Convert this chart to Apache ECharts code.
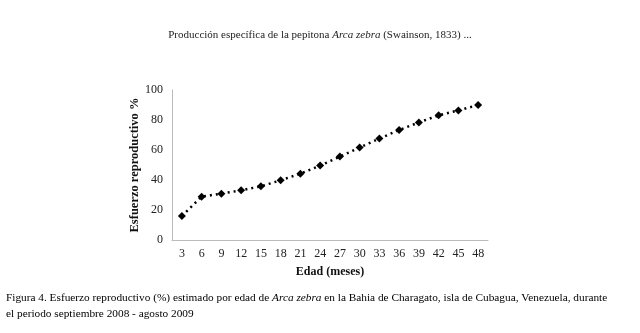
<!DOCTYPE html>
<html><head><meta charset="utf-8">
<script src="https://cdn.jsdelivr.net/npm/echarts@6/dist/echarts.min.js"></script>
<style>html,body{margin:0;padding:0;background:#fff}#c{width:640px;height:333px}</style>
</head><body><div id="c"></div>
<script>
const categories = ['3','6','9','12','15','18','21','24','27','30','33','36','39','42','45','48'];
const esfuerzo = [16, 28.9, 30.9, 33.1, 35.8, 39.8, 44.2, 49.6, 55.6, 61.6, 67.6, 73.3, 78.4, 83.1, 86.4, 90];
const yTicks = [0, 20, 40, 60, 80, 100];

const F = 'Liberation Serif, Times New Roman, serif';
const chart = echarts.init(document.getElementById('c'));
chart.setOption({
  animation: false,
  backgroundColor: '#fff',
  title: {
    left: 'center', top: 25,
    text: '{n|Producción específica de la pepitona }{i|Arca zebra}{n| (Swainson, 1833) ...}',
    textStyle: { fontWeight: 'normal', rich: {
      n: { fontFamily: F, fontSize: 11, color: '#222', fontWeight: 'normal' },
      i: { fontFamily: F, fontSize: 11, color: '#222', fontStyle: 'italic', fontWeight: 'normal' }
    } }
  },
  graphic: [
    { type: 'text', left: 6, top: 293, style: {
      text: '{n|Figura 4. Esfuerzo reproductivo (%) estimado por edad de }{i|Arca zebra}{n| en la Bahia de Charagato, isla de Cubagua, Venezuela, durante}\n{n|el periodo septiembre 2008 - agosto 2009}',
      rich: {
        n: { fontFamily: F, fontSize: 11.3, color: '#222', lineHeight: 16 },
        i: { fontFamily: F, fontSize: 11.3, color: '#222', fontStyle: 'italic', lineHeight: 16 }
      }
    } }
  ],
  grid: { left: 172, right: 152, top: 90, bottom: 93 },
  xAxis: {
    type: 'category', data: categories, boundaryGap: true,
    name: 'Edad (meses)', nameLocation: 'middle', nameGap: 26,
    nameTextStyle: { fontFamily: F, fontSize: 12, fontWeight: 'bold', color: '#111' },
    axisLine: { lineStyle: { color: '#bbb', width: 1 } },
    axisTick: { show: false },
    axisLabel: { fontFamily: F, fontSize: 12, color: '#222', margin: 8 }
  },
  yAxis: {
    type: 'value', min: 0, max: 100, interval: 20,
    name: 'Esfuerzo reproductivo %', nameLocation: 'middle', nameGap: 23,
    nameTextStyle: { fontFamily: F, fontSize: 12.5, fontWeight: 'bold', color: '#111' },
    axisLine: { show: true, lineStyle: { color: '#bbb', width: 1 } },
    axisTick: { show: false },
    splitLine: { show: false },
    axisLabel: { fontFamily: F, fontSize: 12, color: '#222', margin: 9,
      formatter: v => yTicks.includes(v) ? String(v) : '' }
  },
  series: [{
    type: 'line', data: esfuerzo,
    symbol: 'diamond', symbolSize: 8,
    itemStyle: { color: '#000' },
    lineStyle: { color: '#000', width: 2.5, type: [2, 4] }
  }]
});
</script></body></html>
